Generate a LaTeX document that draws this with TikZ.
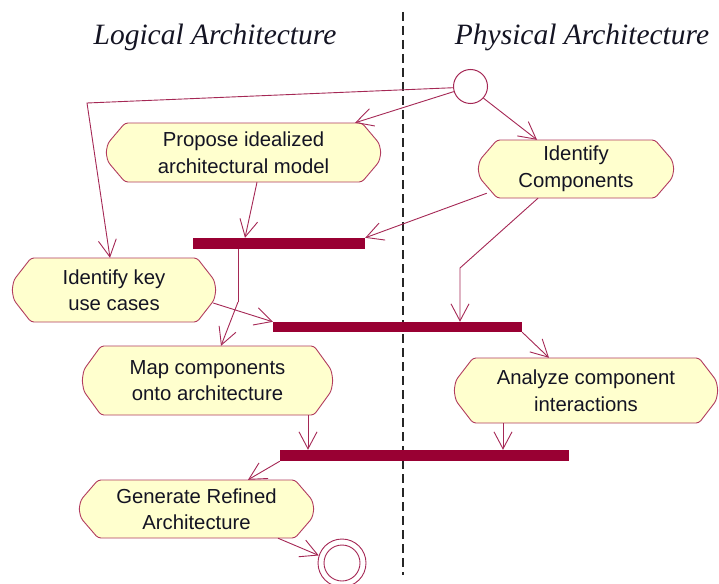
\documentclass[tikz,border=0pt]{standalone}
\usepackage{fontspec}
\setmainfont{Liberation Serif}
\setsansfont{Liberation Sans}
\usetikzlibrary{arrows.meta,calc}
\definecolor{edgecol}{RGB}{165,40,85}
\definecolor{boxcol}{RGB}{178,60,95}
\definecolor{boxfill}{RGB}{255,255,206}
\definecolor{barcol}{RGB}{153,0,51}
\definecolor{txtcol}{RGB}{20,20,35}
\tikzset{
  actshape/.style={draw=boxcol, fill=boxfill, line width=0.9pt, rounded corners=3pt},
  acttext/.style={inner sep=0pt, align=center, text=txtcol, font=\sffamily\fontsize{20.3}{26.5}\selectfont},
  flow/.style={draw=edgecol, line width=0.9pt, -{Straight Barb[length=17pt,width=18pt,line width=0.9pt]}},
  fork/.style={fill=barcol, draw=none, inner sep=0pt, rectangle},
  initstate/.style={circle, draw=edgecol, line width=1pt, inner sep=0pt, minimum size=34pt},
  title/.style={font=\itshape\fontsize{29.5}{31}\selectfont, text=txtcol, anchor=base},
  lane/.style={draw=black!85, line width=1.8pt, dash pattern=on 9pt off 5pt}
}
\newcommand\actnode[6]{%
  \pgfmathsetmacro\aL{#2}\pgfmathsetmacro\aT{#3}%
  \pgfmathsetmacro\aR{#4}\pgfmathsetmacro\aB{#5}%
  \pgfmathsetmacro\aH{\aB-\aT}%
  \pgfmathsetmacro\aU{\aT+0.34*\aH}\pgfmathsetmacro\aD{\aB-0.34*\aH}%
  \pgfmathsetmacro\aM{(\aT+\aB)/2}%
  \pgfmathsetmacro\aW{\aR-\aL}%
  \pgfmathsetmacro\aC{(\aL+\aR)/2}%
  \path[actshape] (\aL+18,\aT) -- (\aR-18,\aT) -- (\aR-1,\aU)
     .. controls (\aR+1,\aM) .. (\aR-1,\aD) -- (\aR-18,\aB) -- (\aL+18,\aB)
     -- (\aL+1,\aD) .. controls (\aL-1,\aM) .. (\aL+1,\aU) -- cycle;
  \node[acttext, minimum width=\aW pt, minimum height=\aH pt] (#1) at (\aC,\aM) {#6};
}
\begin{document}
\begin{tikzpicture}[x=1pt,y=-1pt]
\useasboundingbox (0,0) rectangle (719,583);
\fill[white] (0,0) rectangle (719,583);

% swimlane divider
\coordinate (laneTop) at (403,12);
\coordinate (laneBot) at (403,575);
\draw[lane] (laneTop) -- (laneBot);

% titles
\node[title] (tl) at (215,45) {Logical Architecture};
\node[title] (tp) at (582,45) {Physical Architecture};

% activities
\actnode{prop}{107}{123}{380}{182}{Propose idealized\\architectural model}
\actnode{comps}{479}{140}{673}{198}{Identify\\Components}
\actnode{keyuse}{13}{258}{215}{322}{Identify key\\use cases}
\actnode{map}{83}{346}{332}{415}{Map components\\onto architecture}
\actnode{ana}{455}{358}{717}{423}{Analyze component\\interactions}
\actnode{gen}{80}{480}{313}{538}{Generate Refined\\Architecture}

% fork / join bars
\node[fork, minimum width=172pt, minimum height=11pt] (b1) at (279,243.5) {};
\node[fork, minimum width=249pt, minimum height=10pt] (b2) at (397.5,327) {};
\node[fork, minimum width=289pt, minimum height=11pt] (b3) at (424.5,455.5) {};

% initial and final states
\node[initstate] (start) at (470.5,86.5) {};
\node[circle, draw=edgecol, line width=0.9pt, inner sep=0pt, minimum size=48pt] (endo) at (342,563) {};
\node[circle, draw=edgecol, line width=0.9pt, inner sep=0pt, minimum size=36pt] (endi) at (endo) {};

% connectors
\coordinate (c1) at (87,103);
\coordinate (c2) at (460,268);
\coordinate (c3) at (238,302);
\draw[flow] (start.184) -- (c1) -- ([xshift=-4pt]keyuse.north);
\draw[flow] (start.197) -- ([xshift=111.5pt]prop.north);
\draw[flow] (start.-42) -- ([xshift=-39pt]comps.north);
\draw[flow] ([xshift=13.5pt]prop.south) -- ([xshift=-34pt]b1.north);
\draw[flow] ([xshift=8pt,yshift=5pt]comps.south west) -- (b1.north east);
\draw[flow] ([xshift=-38pt]comps.south) -- (c2) -- (c2 |- b2.north);
\draw[draw=edgecol, line width=0.9pt] ([xshift=-41pt]b1.south) -- (c3);
\draw[flow] (c3) -- ([xshift=13.5pt]map.north);
\draw[flow] ([xshift=-2pt,yshift=-13pt]keyuse.east) -- (b2.north west);
\draw[flow] (b2.south east) -- ([xshift=-37pt]ana.north);
\draw[flow] ([xshift=100.5pt]map.south) -- ([xshift=100.5pt]map.south |- b3.north);
\draw[flow] ([xshift=-83pt]ana.south) -- ([xshift=-83pt]ana.south |- b3.north);
\draw[flow] (b3.south west) -- ([xshift=51.5pt]gen.north);
\draw[flow] ([xshift=81.5pt]gen.south) -- (endo.162);
\end{tikzpicture}
\end{document}
